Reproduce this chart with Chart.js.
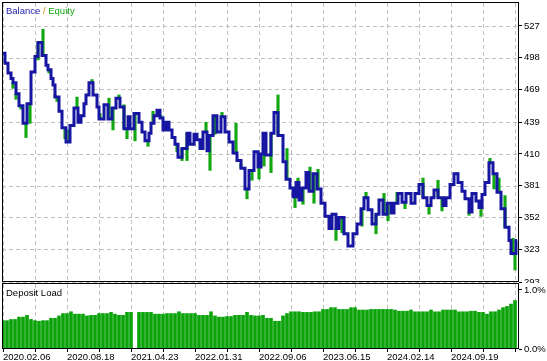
<!DOCTYPE html>
<html>
<head>
<meta charset="utf-8">
<script src="https://cdn.jsdelivr.net/npm/chart.js@4/dist/chart.umd.min.js"></script>
<style>
  html, body { margin: 0; padding: 0; background: #fff; }
  #wrap { position: relative; width: 547px; height: 361px; overflow: hidden; }
  #top { position: absolute; left: 0; top: 0; }
  #bot { position: absolute; left: 0; top: 283px; }
</style>
</head>
<body>
<div id="wrap">
  <canvas id="top" width="547" height="283"></canvas>
  <canvas id="bot" width="547" height="78"></canvas>
</div>
<script>
// bar index of each balance step and the balance after it
const balancePos = [0, 2, 5, 8, 10, 13, 16, 20, 24, 28, 32, 35, 39, 43, 45, 48, 50, 52, 56, 59,
  63, 67, 71, 75, 78, 81, 83, 86, 90, 94, 96, 101, 105, 109, 113, 117, 121, 125, 127, 131,
  136, 139, 142, 146, 148, 151, 154, 157, 160, 163, 166, 169, 172, 175, 179, 184, 187, 191, 194, 197,
  200, 204, 206, 210, 214, 218, 222, 226, 230, 234, 238, 242, 246, 251, 255, 258, 260, 263, 268, 271,
  275, 280, 283, 287, 290, 293, 296, 299, 303, 306, 310, 314, 318, 322, 326, 329, 333, 336, 341, 345,
  350, 354, 358, 361, 365, 369, 373, 376, 380, 384, 388, 391, 395, 399, 403, 408, 412, 416, 420, 424,
  428, 431, 435, 440, 443, 447, 451, 455, 459, 462, 466, 469, 473, 476, 479, 482, 486, 490, 494, 498,
  502, 506, 508, 513, 514];
const balanceVal = [502, 493, 484, 479, 475, 465, 454, 438, 456, 485, 499, 512, 500, 491, 487, 479, 473, 462, 449, 434,
  421, 436, 452, 439, 445, 456, 464, 475, 464, 453, 442, 455, 442, 452, 461, 453, 433, 444, 433, 447,
  439, 430, 422, 429, 438, 445, 450, 443, 432, 439, 432, 425, 419, 407, 415, 429, 419, 428, 423, 415,
  430, 413, 427, 445, 430, 444, 430, 421, 411, 404, 397, 378, 395, 412, 398, 410, 429, 409, 429, 448,
  427, 403, 387, 379, 371, 384, 368, 379, 393, 376, 392, 378, 365, 353, 342, 355, 342, 352, 337, 326,
  337, 346, 360, 370, 359, 346, 355, 368, 355, 365, 356, 365, 374, 366, 374, 365, 374, 382, 370, 363,
  370, 377, 370, 363, 370, 382, 392, 384, 376, 369, 357, 374, 367, 361, 373, 384, 402, 392, 375, 360,
  343, 331, 319, 331, 331];

// equity extremes (floating drawdown / run-up spikes)
const equityPos = [0, 10, 13, 18, 23, 27, 35, 40, 46, 52, 54, 62, 66, 74, 80, 89, 97, 106, 110, 116,
  121, 124, 132, 145, 150, 158, 174, 179, 184, 203, 207, 212, 219, 233, 238, 244, 249, 256, 261, 268,
  275, 284, 292, 295, 300, 307, 311, 315, 333, 339, 359, 363, 373, 381, 385, 394, 402, 420, 426, 435,
  439, 454, 466, 478, 487, 491, 496, 502, 510, 512];
const equityVal = [503, 470, 460, 451, 425, 438, 496, 524, 484, 464, 458, 424, 432, 462, 446, 478, 447, 461, 432, 464,
  455, 424, 422, 417, 449, 445, 412, 404, 404, 439, 395, 428, 448, 438, 401, 369, 386, 387, 399, 393,
  464, 415, 361, 388, 364, 398, 365, 396, 331, 338, 344, 375, 337, 374, 349, 375, 360, 388, 355, 386,
  358, 393, 354, 353, 406, 378, 388, 372, 333, 304];

// deposit load, one bar every 4 bar-index units starting at 0
const loadVal = [0.48, 0.48, 0.50, 0.50, 0.54, 0.54, 0.57, 0.50, 0.48, 0.47, 0.48, 0.48, 0.52, 0.52, 0.56, 0.60,
  0.60, 0.63, 0.59, 0.59, 0.59, 0.56, 0.57, 0.57, 0.60, 0.60, 0.60, 0.62, 0.59, 0.57, 0.57, 0.62,
  0.62, null, 0.62, 0.62, 0.62, 0.62, 0.59, 0.59, 0.59, 0.60, 0.60, 0.60, 0.63, 0.60, 0.60, 0.60,
  0.60, 0.57, 0.57, 0.57, 0.63, 0.56, 0.54, 0.54, 0.55, 0.55, 0.57, 0.57, 0.57, 0.62, 0.57, 0.56,
  0.56, 0.57, 0.52, 0.52, 0.47, 0.47, 0.56, 0.60, 0.63, 0.63, 0.63, 0.62, 0.62, 0.62, 0.63, 0.63,
  0.67, 0.67, 0.70, 0.70, 0.67, 0.67, 0.67, 0.70, 0.70, 0.66, 0.66, 0.66, 0.67, 0.67, 0.67, 0.67,
  0.67, 0.67, 0.66, 0.64, 0.64, 0.64, 0.66, 0.63, 0.63, 0.63, 0.63, 0.66, 0.63, 0.63, 0.66, 0.66,
  0.66, 0.66, 0.63, 0.63, 0.63, 0.64, 0.64, 0.62, 0.62, 0.59, 0.63, 0.63, 0.66, 0.70, 0.72, 0.76,
  0.82];
const loadStep = 4;

const balanceTicks = [293, 323, 352, 381, 410, 439, 469, 498, 527];
const loadTicks = [0, 1];
const gridPos = [0, 32, 64, 96, 128, 160, 192, 224, 256, 288, 320, 352, 384, 416, 448, 480, 512];
const datePos = [0, 64, 128, 192, 256, 320, 384, 448];
const dateLabels = ["2020.02.06", "2020.08.18", "2021.04.23", "2022.01.31", "2022.09.06",
  "2023.06.15", "2024.02.14", "2024.09.19"];

const FONT = { family: "Liberation Sans, Arial, sans-serif", size: 9.5 };
const GRID = "#c0c0c0";
const X_MIN = -1, X_MAX = 516;

const balanceAt = (pos) => {
  let v = balanceVal[0];
  for (let i = 0; i < balancePos.length; i++) {
    if (balancePos[i] <= pos) v = balanceVal[i];
  }
  return v;
};

const noPad = (s) => {
  s.paddingTop = 0;
  s.paddingBottom = 0;
  s.paddingLeft = 0;
  s.paddingRight = 0;
};

// dashed grid like the terminal draws it
const dashedGrid = {
  id: "dashedGrid",
  beforeDatasetsDraw(chart, args, opts) {
    const { ctx, chartArea: a, scales } = chart;
    ctx.save();
    ctx.strokeStyle = GRID;
    ctx.lineWidth = 1;
    ctx.setLineDash([4, 3]);
    ctx.beginPath();
    for (const v of gridPos) {
      const x = Math.round(scales.x.getPixelForValue(v)) + 0.5;
      ctx.moveTo(x, a.top);
      ctx.lineTo(x, a.bottom);
    }
    for (const v of opts.yValues || []) {
      const y = Math.round(scales.y.getPixelForValue(v)) + 0.5;
      ctx.moveTo(a.left, y);
      ctx.lineTo(a.right, y);
    }
    ctx.stroke();
    ctx.restore();
  },
};

const panelBorder = {
  id: "panelBorder",
  afterDraw(chart, args, opts) {
    const { ctx, chartArea: a } = chart;
    ctx.save();
    ctx.strokeStyle = "#000";
    ctx.lineWidth = 1;
    ctx.strokeRect(a.left + 0.5, a.top - 0.5, a.right - a.left - 1, a.bottom - a.top);
    ctx.font = FONT.size + "px " + FONT.family;
    ctx.textBaseline = "alphabetic";
    let x = a.left + 4;
    for (const part of opts.parts) {
      ctx.fillStyle = part.color;
      ctx.fillText(part.text, x, a.top + opts.y);
      x += ctx.measureText(part.text).width;
    }
    ctx.restore();
  },
};

// balance / equity panel
new Chart(document.getElementById("top"), {
  data: {
    datasets: [
      {
        type: "line",
        label: "Balance",
        data: balancePos.map((p, i) => ({ x: p, y: balanceVal[i] })),
        borderColor: "#1616a2",
        borderWidth: 3,
        stepped: true,
        pointRadius: 0,
        order: 0,
      },
      {
        type: "bar",
        label: "Equity",
        data: equityPos.map((p, i) => ({ x: p, y: [balanceAt(p), equityVal[i]] })),
        backgroundColor: "#12a812",
        barThickness: 2.5,
        grouped: false,
        order: 1,
      },
    ],
  },
  options: {
    responsive: false,
    animation: false,
    events: [],
    layout: { padding: { left: 2, top: 3, right: 0, bottom: 1 } },
    plugins: {
      legend: { display: false },
      tooltip: { enabled: false },
      dashedGrid: { yValues: balanceTicks },
      panelBorder: {
        y: 10.5,
        parts: [
          { text: "Balance", color: "#1c1ca8" },
          { text: " / ", color: "#d09000" },
          { text: "Equity", color: "#10a810" },
        ],
      },
    },
    scales: {
      x: {
        type: "linear",
        min: X_MIN,
        max: X_MAX,
        offset: false,
        afterBuildTicks: (s) => { s.ticks = gridPos.map((v) => ({ value: v })); },
        afterFit: (s) => { s.height = 0; noPad(s); },
        ticks: { display: false },
        grid: { display: false, offset: false },
        border: { display: false },
      },
      y: {
        position: "right",
        min: 293,
        max: 548,
        afterBuildTicks: (s) => { s.ticks = balanceTicks.map((v) => ({ value: v })); },
        afterFit: (s) => { s.width = 28; noPad(s); },
        ticks: { color: "#000", font: FONT, padding: 2 },
        grid: { drawOnChartArea: false, tickColor: "#000", tickLength: 3 },
        border: { display: false },
      },
    },
  },
  plugins: [dashedGrid, panelBorder],
});

// deposit load panel
new Chart(document.getElementById("bot"), {
  type: "bar",
  data: {
    datasets: [
      {
        label: "Deposit Load",
        data: loadVal.map((v, i) => ({ x: i * loadStep, y: v })),
        backgroundColor: "#0aa30a",
        barThickness: 3,
        grouped: false,
      },
    ],
  },
  options: {
    responsive: false,
    animation: false,
    events: [],
    layout: { padding: { left: 2, top: 1, right: 0, bottom: 0 } },
    plugins: {
      legend: { display: false },
      tooltip: { enabled: false },
      dashedGrid: { yValues: [] },
      panelBorder: { y: 12, parts: [{ text: "Deposit Load", color: "#000" }] },
    },
    scales: {
      x: {
        type: "linear",
        min: X_MIN,
        max: X_MAX,
        offset: false,
        afterBuildTicks: (s) => { s.ticks = gridPos.map((v) => ({ value: v })); },
        afterFit: (s) => { s.height = 12; noPad(s); },
        ticks: {
          color: "#000",
          font: FONT,
          align: "start",
          autoSkip: false,
          maxRotation: 0,
          padding: 0,
          callback: (v) => {
            const k = datePos.indexOf(v);
            return k >= 0 ? dateLabels[k] : "";
          },
        },
        grid: { drawOnChartArea: false, offset: false, tickColor: "#000", tickLength: 3 },
        border: { display: false },
      },
      y: {
        position: "right",
        min: 0,
        max: 1.1,
        afterBuildTicks: (s) => { s.ticks = loadTicks.map((v) => ({ value: v })); },
        afterFit: (s) => { s.width = 28; noPad(s); },
        ticks: { color: "#000", font: FONT, padding: 2, callback: (v) => v.toFixed(1) + "%" },
        grid: { drawOnChartArea: false, tickColor: "#000", tickLength: 3 },
        border: { display: false },
      },
    },
  },
  plugins: [dashedGrid, panelBorder],
});
</script>
</body>
</html>
